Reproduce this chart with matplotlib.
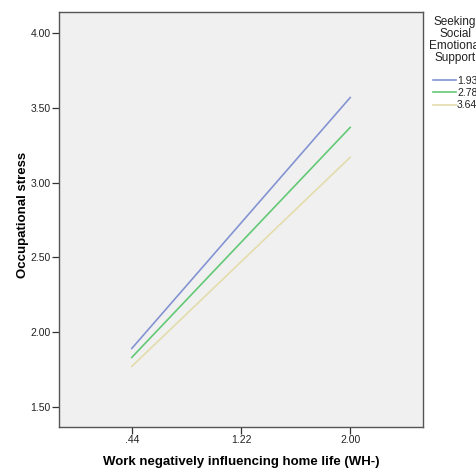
import matplotlib.pyplot as plt
import numpy as np

plt.rcParams['font.family'] = ['Liberation Sans', 'DejaVu Sans']

# data
x_vals = [0.44, 2.00]
x_ticks = [0.44, 1.22, 2.00]
x_ticklabels = ['.44', '1.22', '2.00']
groups = ['1.93', '2.78', '3.64']
y_low = [1.89, 1.83, 1.77]
y_high = [3.57, 3.37, 3.17]
colors = ['#8494d2', '#62c975', '#e4dcab']

W, H = 476, 470
fig = plt.figure(figsize=(W / 100, H / 100), dpi=100)
ax = fig.add_axes([59 / W, 1 - 427 / H, 364 / W, 415 / H])
ax.set_facecolor('#f0f0f0')

for g, lo, hi, c in zip(groups, y_low, y_high, colors):
    ax.plot(x_vals, [lo, hi], color=c, linewidth=1.2, label=g)

ax.set_xlim(-0.08, 2.52)
ax.set_ylim(1.364, 4.143)
ax.set_xticks(x_ticks)
ax.set_xticklabels(x_ticklabels)
ax.set_yticks([1.5, 2.0, 2.5, 3.0, 3.5, 4.0])
ax.set_yticklabels(['1.50', '2.00', '2.50', '3.00', '3.50', '4.00'])
ax.tick_params(labelsize=7.5, length=5, width=0.9, color='#333333', labelcolor='#222222', pad=1)

for s in ax.spines.values():
    s.set_color('#555555')
    s.set_linewidth(1.0)

ax.set_xlabel('Work negatively influencing home life (WH-)', fontsize=9.5, fontweight='bold', labelpad=8)
ax.set_ylabel('Occupational stress', fontsize=9.5, fontweight='bold', labelpad=1)
ax.yaxis.set_label_coords(-30 / 364, 0.51)

# legend title (centred, partly cut off by the figure edge like the original)
fig.text(455 / W, 1 - 16 / H, 'Seeking\nSocial\nEmotional\nSupport', ha='center', va='top',
         multialignment='center', fontsize=8.5, linespacing=1.0, color='#222222')

leg = fig.legend(loc='upper left', bbox_to_anchor=(433 / W, 1 - 76 / H), frameon=False,
                 fontsize=7.5, handlelength=2.2, handletextpad=0.1,
                 labelspacing=0.2, borderaxespad=0, borderpad=0)
for t in leg.get_texts():
    t.set_color('#222222')

fig.savefig('out.png', dpi=100)
